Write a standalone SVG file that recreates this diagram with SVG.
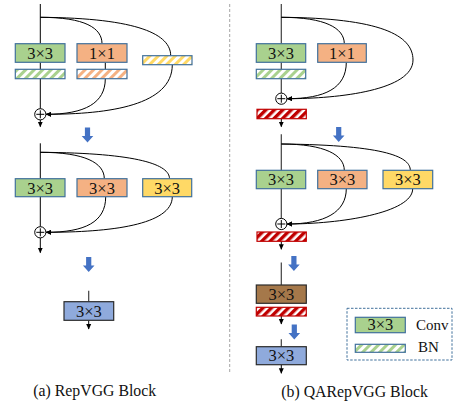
<svg xmlns="http://www.w3.org/2000/svg" width="454" height="404" viewBox="0 0 454 404">
  <style>
    .wire { fill: none; stroke: #000; stroke-width: 1; }
    .trunk { fill: none; stroke: #404040; stroke-width: 1.2; }
    .box { stroke: #41719C; stroke-width: 1.2; }
    .dark { stroke: #2B2B2B; stroke-width: 1.2; }
    .g { fill: #A9D18E; }
    .o { fill: #F4B183; }
    .y { fill: #FFD966; }
    .b { fill: #8FAADC; }
    .br { fill: #A5784A; }
    .lbl { font-family: "Liberation Serif", "Times New Roman", serif; font-size: 16.5px; fill: #111; text-anchor: middle; }
    .cap { font-family: "Liberation Serif", "Times New Roman", serif; font-size: 15.8px; fill: #111; }
    .plus { fill: #fff; stroke: #000; stroke-width: 1; }
    .big { fill: #4472C4; }
  </style>
  <defs>
    <pattern id="hatchG" width="6" height="6" patternUnits="userSpaceOnUse" patternTransform="rotate(45)">
      <rect width="6" height="6" fill="#fff"/>
      <rect width="3" height="6" fill="#A9D18E"/>
    </pattern>
    <pattern id="hatchO" width="6" height="6" patternUnits="userSpaceOnUse" patternTransform="rotate(45)">
      <rect width="6" height="6" fill="#fff"/>
      <rect width="3" height="6" fill="#F4B183"/>
    </pattern>
    <pattern id="hatchY" width="6" height="6" patternUnits="userSpaceOnUse" patternTransform="rotate(45)">
      <rect width="6" height="6" fill="#fff"/>
      <rect width="3" height="6" fill="#FFD966"/>
    </pattern>
    <pattern id="hatchR" width="6" height="6" patternUnits="userSpaceOnUse" patternTransform="rotate(45)">
      <rect width="6" height="6" fill="#fff"/>
      <rect width="3.4" height="6" fill="#C00000"/>
    </pattern>
    <marker id="tip" markerWidth="6" markerHeight="6" refX="5" refY="3" orient="auto" markerUnits="userSpaceOnUse">
      <path d="M0,0.5 L5.5,3 L0,5.5 Z" fill="#000"/>
    </marker>
    <symbol id="plusSym" viewBox="-6 -6 12 12" overflow="visible">
      <circle r="5.6" class="plus"/>
      <path d="M-4,0 H4 M0,-4 V4" stroke="#000" stroke-width="1"/>
    </symbol>
    <path id="bigArrow" d="M-2.6,0 H2.6 V8.5 H5.8 L0,15 L-5.8,8.5 H-2.6 Z"/>
  </defs>

  <!-- separator between the two panels -->
  <line x1="229.7" y1="4" x2="229.7" y2="373" stroke="#A6A6A6" stroke-width="1" stroke-dasharray="3,2"/>

  <!-- connectors -->
  <g id="connectors">
    <!-- (a) training-time block -->
    <line class="wire" x1="40.3" y1="4" x2="40.3" y2="108.7"/>
    <line class="wire" x1="40.3" y1="120" x2="40.3" y2="126.7" marker-end="url(#tip)"/>
    <path class="wire" d="M40.3,17.3 C85,17.3 102,28 102,43.7"/>
    <path class="wire" d="M40.3,17.3 C140,18 170.7,35 170.7,55.7"/>
    <path class="wire" d="M105.3,62.3 L105.3,78.7 C105.3,103 85,114.3 46.2,114.3" marker-end="url(#tip)"/>
    <path class="wire" d="M172.3,64.7 C172.3,105 110,114.3 46.2,114.3" marker-end="url(#tip)"/>

    <!-- (a) merged branches -->
    <line class="wire" x1="40.3" y1="143.3" x2="40.3" y2="226.7"/>
    <line class="wire" x1="40.3" y1="238" x2="40.3" y2="252.7" marker-end="url(#tip)"/>
    <path class="wire" d="M40.3,152.3 C85,152.3 104.3,163 104.3,178.7"/>
    <path class="wire" d="M40.3,152.3 C140,153 169.5,165 169.5,178.7"/>
    <path class="wire" d="M105.7,196.7 C105.7,222 85,232.3 46.2,232.3" marker-end="url(#tip)"/>
    <path class="wire" d="M172.3,196.7 C172.3,225 110,232.3 46.2,232.3" marker-end="url(#tip)"/>

    <!-- (a) deploy -->
    <line class="trunk" x1="88.7" y1="290.7" x2="88.7" y2="301.7"/>
    <line class="wire" x1="88.7" y1="320.3" x2="88.7" y2="329" marker-end="url(#tip)"/>

    <!-- (b) training-time block -->
    <line class="trunk" x1="281.3" y1="4" x2="281.3" y2="93"/>
    <line class="wire" x1="281.3" y1="118.7" x2="281.3" y2="126.7" marker-end="url(#tip)"/>
    <path class="wire" d="M281.3,17.3 C325,17.3 344.3,28 344.3,43.7"/>
    <path class="wire" d="M346.3,62.3 C346.3,88 325,98.7 287.2,98.7" marker-end="url(#tip)"/>
    <path class="wire" d="M281.3,17.3 C380,18 413,35 413,60 C413,90 340,98.7 287.2,98.7" marker-end="url(#tip)"/>

    <!-- (b) merged branches -->
    <line class="trunk" x1="281.3" y1="134.3" x2="281.3" y2="218.4"/>
    <line class="wire" x1="281.3" y1="241.3" x2="281.3" y2="249.3" marker-end="url(#tip)"/>
    <path class="wire" d="M281.3,144 C325,144 344.3,155 344.3,170.3"/>
    <path class="wire" d="M281.3,144 C390,145 410.3,158 410.3,170.3"/>
    <path class="wire" d="M346.3,188.7 C346.3,212 325,224 287.2,224" marker-end="url(#tip)"/>
    <path class="wire" d="M412.7,188.7 C412.7,213 340,224 287.2,224" marker-end="url(#tip)"/>

    <!-- (b) deploy -->
    <line class="trunk" x1="281.3" y1="262.5" x2="281.3" y2="285"/>
    <line class="wire" x1="281.3" y1="316" x2="281.3" y2="324" marker-end="url(#tip)"/>
    <line class="trunk" x1="281.3" y1="339.3" x2="281.3" y2="346.7"/>
    <line class="wire" x1="281.3" y1="364.7" x2="281.3" y2="373.3" marker-end="url(#tip)"/>
  </g>

  <!-- (a) RepVGG block: training -->
  <g id="a-conv3x3">
    <rect class="box g" x="15.3" y="43.7" width="49.7" height="18.6"/>
    <text class="lbl" x="40.2" y="58.8">3×3</text>
  </g>
  <g id="a-conv1x1">
    <rect class="box o" x="77" y="43.7" width="50" height="18.6"/>
    <text class="lbl" x="102" y="58.8">1×1</text>
  </g>
  <g id="a-bn3x3"><rect class="box" x="15.3" y="69.3" width="49.7" height="9.4" fill="url(#hatchG)"/></g>
  <g id="a-bn1x1"><rect class="box" x="77" y="69.3" width="50" height="9.4" fill="url(#hatchO)"/></g>
  <g id="a-bnid"><rect class="box" x="142.7" y="55.7" width="49.3" height="9" fill="url(#hatchY)"/></g>
  <g id="a-add1"><use href="#plusSym" x="34.3" y="108.3" width="12" height="12"/></g>
  <g id="a-step1"><use href="#bigArrow" class="big" x="87.5" y="127.5"/></g>

  <!-- (a) merged branches -->
  <g id="a-m3x3">
    <rect class="box g" x="15.3" y="178.7" width="49.7" height="18"/>
    <text class="lbl" x="40.2" y="193.5">3×3</text>
  </g>
  <g id="a-m1x1">
    <rect class="box o" x="77" y="178.7" width="50" height="18"/>
    <text class="lbl" x="102" y="193.5">3×3</text>
  </g>
  <g id="a-mid">
    <rect class="box y" x="142.7" y="178.7" width="49" height="18"/>
    <text class="lbl" x="167.2" y="193.5">3×3</text>
  </g>
  <g id="a-add2"><use href="#plusSym" x="34.3" y="226.3" width="12" height="12"/></g>
  <g id="a-step2"><use href="#bigArrow" class="big" x="88.7" y="257"/></g>

  <!-- (a) deploy -->
  <g id="a-deploy">
    <rect class="dark b" x="64" y="301.7" width="49.7" height="18.6"/>
    <text class="lbl" x="88.8" y="316.6">3×3</text>
  </g>
  <g id="a-caption"><text class="cap" x="33.3" y="395.7">(a) RepVGG Block</text></g>

  <!-- (b) QARepVGG block: training -->
  <g id="b-conv3x3">
    <rect class="box g" x="256.3" y="43.7" width="49.4" height="18.6"/>
    <text class="lbl" x="281" y="58.8">3×3</text>
  </g>
  <g id="b-conv1x1">
    <rect class="box o" x="317.7" y="43.7" width="48.6" height="18.6"/>
    <text class="lbl" x="342" y="58.8">1×1</text>
  </g>
  <g id="b-bn3x3"><rect class="box" x="256.3" y="69.3" width="49.4" height="9.4" fill="url(#hatchG)"/></g>
  <g id="b-add1"><use href="#plusSym" x="275.3" y="92.7" width="12" height="12"/></g>
  <g id="b-bnpost1"><rect x="257" y="109.3" width="49.3" height="9.4" fill="url(#hatchR)" stroke="#C00000" stroke-width="1.2"/></g>
  <g id="b-step1"><use href="#bigArrow" class="big" x="338.7" y="127"/></g>

  <!-- (b) merged branches -->
  <g id="b-m3x3">
    <rect class="box g" x="256.3" y="170.3" width="49.4" height="18.4"/>
    <text class="lbl" x="281" y="185.3">3×3</text>
  </g>
  <g id="b-m1x1">
    <rect class="box o" x="317.7" y="170.3" width="49.3" height="18.4"/>
    <text class="lbl" x="342.3" y="185.3">3×3</text>
  </g>
  <g id="b-mid">
    <rect class="box y" x="383" y="170.3" width="49.7" height="18.4"/>
    <text class="lbl" x="407.8" y="185.3">3×3</text>
  </g>
  <g id="b-add2"><use href="#plusSym" x="275.3" y="218" width="12" height="12"/></g>
  <g id="b-bnpost2"><rect x="257" y="232" width="49.3" height="9.3" fill="url(#hatchR)" stroke="#C00000" stroke-width="1.2"/></g>
  <g id="b-step2"><use href="#bigArrow" class="big" x="293.9" y="256"/></g>

  <!-- (b) deploy -->
  <g id="b-fused">
    <rect class="dark br" x="256.3" y="285" width="50" height="18.3"/>
    <text class="lbl" x="281.3" y="299.8">3×3</text>
  </g>
  <g id="b-bnpost3"><rect x="256.3" y="307.3" width="50" height="8.7" fill="url(#hatchR)" stroke="#C00000" stroke-width="1.2"/></g>
  <g id="b-step3"><use href="#bigArrow" class="big" x="294.3" y="324.5"/></g>
  <g id="b-deploy">
    <rect class="dark b" x="256.3" y="346.7" width="50" height="18"/>
    <text class="lbl" x="281.3" y="361.4">3×3</text>
  </g>
  <g id="b-caption"><text class="cap" x="281.3" y="396.7">(b) QARepVGG Block</text></g>

  <!-- legend -->
  <g id="legend">
    <rect x="347" y="308.3" width="105" height="51.7" fill="none" stroke="#41719C" stroke-width="1" stroke-dasharray="2.5,1.5"/>
    <rect class="box g" x="355.3" y="317.3" width="50" height="15.4"/>
    <text class="lbl" x="380.3" y="330.3">3×3</text>
    <text class="cap" x="416" y="329.5" style="font-size:15px">Conv</text>
    <rect class="box" x="355.3" y="344.3" width="50" height="8" fill="url(#hatchG)"/>
    <text class="cap" x="418" y="352.3" style="font-size:15px">BN</text>
  </g>
</svg>
